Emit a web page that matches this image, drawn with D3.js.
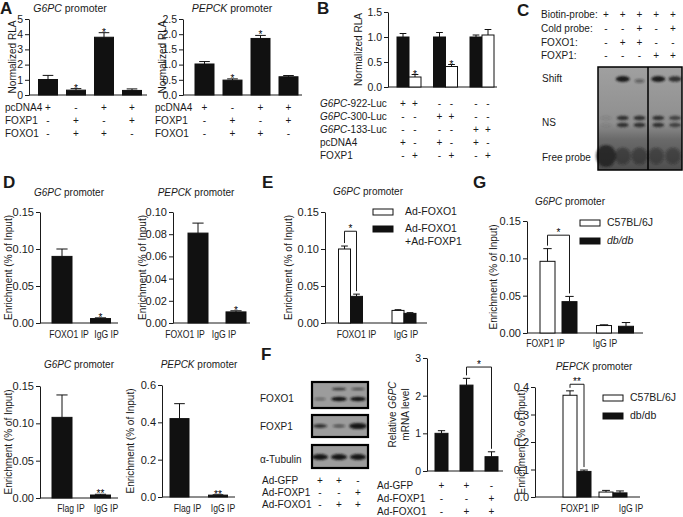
<!DOCTYPE html>
<html>
<head>
<meta charset="utf-8">
<script src="https://cdn.jsdelivr.net/npm/d3@7"></script>
<style>
	body { margin: 0; background: #fff; }
	svg text { font-family: "Liberation Sans", Arial, sans-serif; fill: #1a1a1a; }
	svg text.star { fill: #000; }
</style>
</head>
<body>
<div id="viz"></div>
<script>
// ---- A: luciferase, G6PC / PEPCK promoter
const A_ROWS = ['pcDNA4', 'FOXP1', 'FOXO1'];
const A_SIGNS = [['+', '-', '+', '+'], ['-', '+', '-', '+'], ['-', '+', '+', '-']];
const A_G6PC = [1.02, 0.32, 3.8, 0.3];
const A_G6PC_ERR = [0.27, 0.1, 0.3, 0.1];
const A_PEPCK = [1.02, 0.49, 1.86, 0.6];
const A_PEPCK_ERR = [0.08, 0.04, 0.1, 0.04];
const A_STARS = ['', '*', '*', ''];

// ---- B: G6PC deletion constructs
const B_ROWS = ['_G6PC_-922-Luc', '_G6PC_-300-Luc', '_G6PC_-133-Luc', 'pcDNA4', 'FOXP1'];
const B_SIGNS = [
	['+', '+', '-', '-', '-', '-'],
	['-', '-', '+', '+', '-', '-'],
	['-', '-', '-', '-', '+', '+'],
	['+', '-', '+', '-', '+', '-'],
	['-', '+', '-', '+', '-', '+']
];
const B_PCDNA = [1.0, 1.0, 1.0];
const B_PCDNA_ERR = [0.07, 0.09, 0.04];
const B_FOXP1 = [0.2, 0.41, 1.04];
const B_FOXP1_ERR = [0.05, 0.04, 0.11];
const B_STARS = ['*', '*', ''];

// ---- C: EMSA
const C_ROWS = ['Biotin-probe:', 'Cold probe:', 'FOXO1:', 'FOXP1:'];
const C_SIGNS = [['+', '+', '+', '+', '+'], ['-', '-', '+', '-', '+'], ['-', '+', '+', '-', '-'], ['-', '-', '-', '+', '+']];
const C_BANDS = ['Shift', 'NS', 'Free probe'];
const C_SHIFT = [0, 1, 0.45, 1, 0.85];
const C_NS = [0.12, 1, 1, 1, 0.8];
const C_FREE = [1, 0.6, 0.6, 0.55, 0.55];

// ---- D: ChIP
const D_CATS = ['FOXO1 IP', 'IgG IP'];
const D_G6PC = [0.09, 0.006];
const D_G6PC_ERR = [0.01, 0.001];
const D_PEPCK = [0.081, 0.01];
const D_PEPCK_ERR = [0.009, 0.001];
const D_FLAG_CATS = ['Flag IP', 'IgG IP'];
const D_FLAG_G6PC = [0.108, 0.004];
const D_FLAG_G6PC_ERR = [0.03, 0.001];
const D_FLAG_PEPCK = [0.42, 0.01];
const D_FLAG_PEPCK_ERR = [0.08, 0.002];

// ---- E
const E_CATS = ['FOXO1 IP', 'IgG IP'];
const E_SERIES = [['Ad-FOXO1'], ['Ad-FOXO1', '+Ad-FOXP1']];
const E_FOXO1 = [0.1, 0.017];
const E_FOXO1_ERR = [0.004, 0.001];
const E_BOTH = [0.036, 0.013];
const E_BOTH_ERR = [0.003, 0.001];

// ---- F
const F_BLOTS = ['FOXO1', 'FOXP1', 'α-Tubulin'];
const F_ROWS = ['Ad-GFP', 'Ad-FOXP1', 'Ad-FOXO1'];
const F_SIGNS = [['+', '+', '-'], ['-', '-', '+'], ['-', '+', '+']];
const F_FOXO1_UP = [0, 0.8, 0.7];
const F_FOXO1_LOW = [0.45, 1, 1];
const F_FOXP1 = [0.8, 0.6, 1.3];
const F_TUB = [1, 1, 1];
const F_MRNA = [1.0, 2.28, 0.38];
const F_MRNA_ERR = [0.07, 0.18, 0.13];

// ---- G
const G_CATS = ['FOXP1 IP', 'IgG IP'];
const G_SERIES = ['C57BL/6J', 'db/db'];
const G_G6PC_WT = [0.096, 0.01];
const G_G6PC_WT_ERR = [0.017, 0.001];
const G_G6PC_DB = [0.042, 0.009];
const G_G6PC_DB_ERR = [0.007, 0.005];
const G_PEPCK_WT = [0.37, 0.018];
const G_PEPCK_WT_ERR = [0.016, 0.006];
const G_PEPCK_DB = [0.093, 0.015];
const G_PEPCK_DB_ERR = [0.005, 0.007];

const INK = '#1a1a1a';
const BAR = '#111';
const TABLE_FONT = 10;

const svg = d3.select('#viz').append('svg')
	.attr('width', 683)
	.attr('height', 517);

const defs = svg.append('defs');
defs.append('filter').attr('id', 'blur').append('feGaussianBlur').attr('stdDeviation', 1.1);
const gelGrad = defs.append('linearGradient').attr('id', 'gelGrad').attr('x1', 0).attr('y1', 0).attr('x2', 0).attr('y2', 1);
[['0%', '#a0a0a0'], ['55%', '#8e8e8e'], ['70%', '#6a6a6a'], ['100%', '#4e4e4e']].forEach((s) => {
	gelGrad.append('stop').attr('offset', s[0]).attr('stop-color', s[1]);
});

// text with _italic_ parts
function rich(sel, str) {
	str.split('_').forEach((p, i) => {
		if (p) sel.append('tspan').attr('font-style', i % 2 ? 'italic' : 'normal').text(p);
	});
	return sel;
}

function label(x, y, str, size, anchor) {
	return rich(svg.append('text')
		.attr('x', x)
		.attr('y', y)
		.attr('font-size', size)
		.attr('text-anchor', anchor || 'start'), str);
}

function panelLetter(x, y, ch) {
	svg.append('text').attr('x', x).attr('y', y)
		.attr('font-size', 17).attr('font-weight', 'bold').text(ch);
}

function signTable(rows, signs, labelX, colX, baselines, size) {
	rows.forEach((r, i) => {
		label(labelX, baselines[i], r, size);
		svg.selectAll(null).data(signs[i]).enter()
			.append('text')
			.attr('x', (d, j) => colX[j])
			.attr('y', baselines[i])
			.attr('font-size', size)
			.attr('text-anchor', 'middle')
			.text((d) => d);
	});
}

function barChart(c) {
	const g = svg.append('g').attr('class', 'panel');
	const y = d3.scaleLinear().domain(c.domain).range([c.y0, c.y1]);
	const x = d3.scalePoint().domain(d3.range(c.n)).range(c.xRange);

	g.append('g')
		.attr('class', 'y axis')
		.attr('transform', 'translate(' + c.ax + ',0)')
		.call(d3.axisLeft(y).tickValues(c.ticks).tickFormat(d3.format(c.fmt)).tickSize(4).tickSizeOuter(0).tickPadding(2))
		.call((s) => {
			s.selectAll('path, line').attr('stroke', INK);
			s.selectAll('text').attr('font-size', c.tickFont).attr('fill', INK);
		});

	g.append('line')
		.attr('class', 'x axis')
		.attr('x1', c.ax).attr('x2', c.xEnd)
		.attr('y1', c.y0).attr('y2', c.y0)
		.attr('stroke', INK);

	const tops = [];
	c.series.forEach((s) => {
		tops.push(s.vals.map((v, i) => v + s.errs[i]));

		g.selectAll(null).data(s.vals).enter()
			.append('rect')
			.attr('x', (d, i) => x(i) + s.off - s.w / 2)
			.attr('y', (d) => y(d))
			.attr('width', s.w)
			.attr('height', (d) => c.y0 - y(d))
			.attr('fill', s.fill)
			.attr('stroke', BAR)
			.attr('stroke-width', 1);

		g.selectAll(null).data(s.vals).enter()
			.append('path')
			.attr('fill', 'none')
			.attr('stroke', BAR)
			.attr('d', (d, i) => {
				const cx = x(i) + s.off, cap = s.w * 0.28, t = y(d + s.errs[i]);
				return 'M' + cx + ',' + y(d) + 'V' + t + 'M' + (cx - cap) + ',' + t + 'H' + (cx + cap);
			});

		if (s.stars) {
			g.selectAll(null).data(s.stars).enter()
				.append('text')
				.attr('class', 'star')
				.attr('x', (d, i) => x(i) + s.off)
				.attr('y', (d, i) => y(s.vals[i] + s.errs[i]) + 3)
				.attr('font-size', 10)
				.attr('text-anchor', 'middle')
				.text((d) => d);
		}
	});

	if (c.bracket) {
		const b = c.bracket;
		const x1 = x(b.a[1]) + c.series[b.a[0]].off, x2 = x(b.b[1]) + c.series[b.b[0]].off;
		const yl = y(b.level);
		g.append('path')
			.attr('fill', 'none')
			.attr('stroke', INK)
			.attr('d', 'M' + x1 + ',' + Math.max(yl, y(tops[b.a[0]][b.a[1]]) - 3) + 'V' + yl + 'H' + x2 + 'V' + (y(tops[b.b[0]][b.b[1]]) - 3));
		g.append('text')
			.attr('class', 'star')
			.attr('x', (x1 + x2) / 2)
			.attr('y', yl + 1)
			.attr('font-size', 10)
			.attr('text-anchor', 'middle')
			.text(b.label);
	}

	if (c.cats) {
		// the reference uses a narrower face for these labels: squeeze horizontally
		g.selectAll(null).data(c.cats).enter()
			.append('text')
			.attr('transform', (d, i) => 'translate(' + (x(i) + (c.catDx ? c.catDx[i] : 0)) + ',' + c.catY + ') scale(0.82,1)')
			.attr('font-size', 10.5)
			.attr('text-anchor', 'middle')
			.text((d) => d);
	}

	if (c.title) label(c.titleX, c.titleY, c.title, c.titleFont || 10, 'middle');

	c.yLabel.forEach((t, i) => {
		rich(g.append('text')
			.attr('transform', 'translate(' + c.yLabelX[i] + ',' + (c.y0 + c.y1) / 2 + ') rotate(-90)')
			.attr('dy', '0.35em')
			.attr('font-size', 10)
			.attr('text-anchor', 'middle'), t);
	});

	return x;
}

function legend(items, rectX, ys, fills, textX, italic) {
	items.forEach((lines, i) => {
		svg.append('rect')
			.attr('x', rectX).attr('y', ys[i] - 6)
			.attr('width', 20).attr('height', 6)
			.attr('fill', fills[i]).attr('stroke', BAR);
		lines.forEach((t, k) => {
			svg.append('text')
				.attr('x', textX).attr('y', ys[i] + k * 13)
				.attr('font-size', 10.5)
				.attr('font-style', italic && italic[i] ? 'italic' : 'normal')
				.text(t);
		});
	});
}

// ================= A
panelLetter(0, 14, 'A');
const xA1 = barChart({
	ax: 29, y0: 95, y1: 19, xEnd: 147, domain: [0, 5], ticks: [0, 1, 2, 3, 4, 5], fmt: 'd', tickFont: 10.5,
	n: 4, xRange: [48, 132],
	series: [{ vals: A_G6PC, errs: A_G6PC_ERR, fill: BAR, off: 0, w: 19, stars: A_STARS }],
	title: '_G6PC_ promoter', titleX: 70, titleY: 12, titleFont: 10.5,
	yLabel: ['Normalized RLA'], yLabelX: [12]
});
signTable(A_ROWS, A_SIGNS, 5, [0, 1, 2, 3].map(xA1), [111, 124, 137], TABLE_FONT);

const xA2 = barChart({
	ax: 183, y0: 95, y1: 19, xEnd: 302, domain: [0, 2.5], ticks: [0, 0.5, 1, 1.5, 2, 2.5], fmt: '.1f', tickFont: 10.5,
	n: 4, xRange: [204.5, 288.5],
	series: [{ vals: A_PEPCK, errs: A_PEPCK_ERR, fill: BAR, off: 0, w: 19, stars: A_STARS }],
	title: '_PEPCK_ promoter', titleX: 232, titleY: 12, titleFont: 10.5,
	yLabel: ['Normalized RLA'], yLabelX: [162]
});
signTable(A_ROWS, A_SIGNS, 155, [0, 1, 2, 3].map(xA2), [111, 124, 137], TABLE_FONT);

// ================= B
panelLetter(317, 14, 'B');
const xB = barChart({
	ax: 388, y0: 87, y1: 12, xEnd: 497, domain: [0, 1.5], ticks: [0, 0.5, 1, 1.5], fmt: '.1f', tickFont: 10.5,
	n: 3, xRange: [409, 482],
	series: [
		{ vals: B_PCDNA, errs: B_PCDNA_ERR, fill: BAR, off: -6, w: 12 },
		{ vals: B_FOXP1, errs: B_FOXP1_ERR, fill: '#fff', off: 6, w: 12, stars: B_STARS }
	],
	yLabel: ['Normalized RLA'], yLabelX: [358]
});
const bCols = [];
[0, 1, 2].forEach((i) => { bCols.push(xB(i) - 6, xB(i) + 6); });
signTable(B_ROWS, B_SIGNS, 320, bCols, [107, 120, 133, 146, 159], TABLE_FONT);

// ================= C
panelLetter(517, 16, 'C');
const lane = d3.scalePoint().domain(d3.range(5)).range([606, 673]);
signTable(C_ROWS, C_SIGNS, 541, d3.range(5).map(lane), [18, 32, 46, 59], TABLE_FONT);
[82, 126, 161].forEach((yy, i) => label(542, yy, C_BANDS[i], TABLE_FONT));

const gel = svg.append('g').attr('class', 'gel');
gel.append('rect').attr('x', 598).attr('y', 67).attr('width', 84).attr('height', 103).attr('fill', 'url(#gelGrad)');
const bands = gel.append('g').attr('filter', 'url(#blur)');
bands.selectAll(null).data(C_SHIFT).enter().append('ellipse')
	.attr('cx', (d, i) => lane(i) + (i > 2 ? 2 : 0)).attr('cy', (d, i) => (i === 2 ? 81 : 79))
	.attr('rx', (d) => 3 + 4 * d).attr('ry', (d) => 1 + 2 * d)
	.attr('fill', '#1c1c1c').attr('opacity', (d) => d);
[118, 125].forEach((cy) => {
	bands.selectAll(null).data(C_NS).enter().append('ellipse')
		.attr('cx', (d, i) => lane(i) + (i > 2 ? 2 : 0)).attr('cy', cy)
		.attr('rx', 6).attr('ry', 2.2)
		.attr('fill', '#222').attr('opacity', (d) => d * 0.9);
});
bands.selectAll(null).data(C_FREE).enter().append('ellipse')
	.attr('cx', (d, i) => lane(i)).attr('cy', 156)
	.attr('rx', (d) => 5 + 5 * d).attr('ry', (d) => 5 + 6 * d)
	.attr('fill', '#1e1e1e').attr('opacity', (d) => d * 0.85);
gel.append('rect').attr('x', 598).attr('y', 67).attr('width', 84).attr('height', 103)
	.attr('fill', 'none').attr('stroke', '#000').attr('stroke-width', 1.5);
gel.append('line').attr('x1', 648).attr('x2', 648).attr('y1', 67).attr('y2', 170)
	.attr('stroke', '#000').attr('stroke-width', 1.5);

// ================= D
panelLetter(3, 188, 'D');
barChart({
	ax: 40, y0: 323, y1: 212, xEnd: 118, domain: [0, 0.15], ticks: [0, 0.05, 0.1, 0.15], fmt: '.2f', tickFont: 11,
	n: 2, xRange: [62, 100.5],
	series: [{ vals: D_G6PC, errs: D_G6PC_ERR, fill: BAR, off: 0, w: 20, stars: ['', '*'] }],
	cats: D_CATS, catY: 338, catDx: [7, 6],
	title: '_G6PC_ promoter', titleX: 69, titleY: 196,
	yLabel: ['Enrichment (% of Input)'], yLabelX: [8]
});
barChart({
	ax: 173, y0: 323, y1: 212, xEnd: 250, domain: [0, 0.1], ticks: [0, 0.02, 0.04, 0.06, 0.08, 0.1], fmt: '.2f', tickFont: 11,
	n: 2, xRange: [198, 236],
	series: [{ vals: D_PEPCK, errs: D_PEPCK_ERR, fill: BAR, off: 0, w: 20, stars: ['', '*'] }],
	cats: D_CATS, catY: 338, catDx: [-13, -12],
	title: '_PEPCK_ promoter', titleX: 196, titleY: 196,
	yLabel: ['Enrichment (% of Input)'], yLabelX: [142]
});
barChart({
	ax: 40, y0: 498, y1: 386, xEnd: 118, domain: [0, 0.15], ticks: [0, 0.05, 0.1, 0.15], fmt: '.2f', tickFont: 11,
	n: 2, xRange: [62, 100.5],
	series: [{ vals: D_FLAG_G6PC, errs: D_FLAG_G6PC_ERR, fill: BAR, off: 0, w: 20, stars: ['', '**'] }],
	cats: D_FLAG_CATS, catY: 512, catDx: [9, 5.5],
	title: '_G6PC_ promoter', titleX: 79, titleY: 368,
	yLabel: ['Enrichment (% of Input)'], yLabelX: [8]
});
barChart({
	ax: 162, y0: 497, y1: 385, xEnd: 235, domain: [0, 0.6], ticks: [0, 0.2, 0.4, 0.6], fmt: '.1f', tickFont: 11,
	n: 2, xRange: [179.5, 218],
	series: [{ vals: D_FLAG_PEPCK, errs: D_FLAG_PEPCK_ERR, fill: BAR, off: 0, w: 19, stars: ['', '**'] }],
	cats: D_FLAG_CATS, catY: 512, catDx: [8, 5],
	title: '_PEPCK_ promoter', titleX: 199, titleY: 368,
	yLabel: ['Enrichment (% of Input)'], yLabelX: [130]
});

// ================= E
panelLetter(262, 188, 'E');
barChart({
	ax: 325, y0: 323, y1: 212, xEnd: 427, domain: [0, 0.15], ticks: [0, 0.05, 0.1, 0.15], fmt: '.2f', tickFont: 11,
	n: 2, xRange: [350.5, 404],
	series: [
		{ vals: E_FOXO1, errs: E_FOXO1_ERR, fill: '#fff', off: -6, w: 12 },
		{ vals: E_BOTH, errs: E_BOTH_ERR, fill: BAR, off: 6, w: 12 }
	],
	bracket: { a: [0, 0], b: [1, 0], level: 0.124, label: '*' },
	cats: E_CATS, catY: 338, catDx: [6, 2],
	title: '_G6PC_ promoter', titleX: 368, titleY: 195,
	yLabel: ['Enrichment (% of Input)'], yLabelX: [288]
});
legend(E_SERIES, 373, [215, 232], ['#fff', BAR], 405);

// ================= F
panelLetter(261, 360, 'F');
const blotLane = d3.scalePoint().domain(d3.range(3)).range([320, 358]);
const blots = [[382, 408], [415, 437], [445, 468]];
F_BLOTS.forEach((b, i) => label(260, [402, 430, 463][i], b, TABLE_FONT));
const blotG = svg.append('g').attr('class', 'blots');
blots.forEach((bb) => {
	blotG.append('rect').attr('x', 312).attr('y', bb[0]).attr('width', 56).attr('height', bb[1] - bb[0]).attr('fill', '#9c9c9c');
});
const blotBands = blotG.append('g').attr('filter', 'url(#blur)');
[[F_FOXO1_UP, 389, 1.6], [F_FOXO1_LOW, 399, 2.2], [F_FOXP1, 426, 2.4], [F_TUB, 457, 3]].forEach((spec) => {
	blotBands.selectAll(null).data(spec[0]).enter().append('ellipse')
		.attr('cx', (d, i) => blotLane(i)).attr('cy', spec[1])
		.attr('rx', (d) => 4 + 4 * Math.min(d, 1.2)).attr('ry', (d) => spec[2] * Math.max(d, 0.6))
		.attr('fill', '#151515').attr('opacity', (d) => Math.min(d, 1));
});
blots.forEach((bb) => {
	blotG.append('rect').attr('x', 312).attr('y', bb[0]).attr('width', 56).attr('height', bb[1] - bb[0])
		.attr('fill', 'none').attr('stroke', '#000').attr('stroke-width', 2.2);
});
signTable(F_ROWS, F_SIGNS, 262, d3.range(3).map(blotLane), [484, 496, 508], TABLE_FONT);

const xF = barChart({
	ax: 427, y0: 471, y1: 358, xEnd: 503, domain: [0, 3], ticks: [0, 1, 2, 3], fmt: 'd', tickFont: 10.5,
	n: 3, xRange: [441.5, 491.5],
	series: [{ vals: F_MRNA, errs: F_MRNA_ERR, fill: BAR, off: 0, w: 13 }],
	bracket: { a: [0, 1], b: [0, 2], level: 2.76, label: '*' },
	yLabel: ['Relative _G6PC_', 'mRNA level'], yLabelX: [392, 405]
});
signTable(F_ROWS, F_SIGNS, 377, d3.range(3).map(xF), [489, 502, 515], TABLE_FONT);

// ================= G
panelLetter(473, 188, 'G');
barChart({
	ax: 527, y0: 333, y1: 221, xEnd: 643, domain: [0, 0.15], ticks: [0, 0.05, 0.1, 0.15], fmt: '.2f', tickFont: 11,
	n: 2, xRange: [558.5, 615],
	series: [
		{ vals: G_G6PC_WT, errs: G_G6PC_WT_ERR, fill: '#fff', off: -11, w: 15 },
		{ vals: G_G6PC_DB, errs: G_G6PC_DB_ERR, fill: BAR, off: 11, w: 15 }
	],
	bracket: { a: [0, 0], b: [1, 0], level: 0.131, label: '*' },
	cats: G_CATS, catY: 347, catDx: [-13, -10],
	title: '_G6PC_ promoter', titleX: 570, titleY: 205,
	yLabel: ['Enrichment (% of Input)'], yLabelX: [493]
});
legend([[G_SERIES[0]], [G_SERIES[1]]], 580, [226, 244], ['#fff', BAR], 607, [false, true]);

barChart({
	ax: 535, y0: 497, y1: 387, xEnd: 640, domain: [0, 0.4], ticks: [0, 0.1, 0.2, 0.3, 0.4], fmt: '.1f', tickFont: 11,
	n: 2, xRange: [577, 613],
	series: [
		{ vals: G_PEPCK_WT, errs: G_PEPCK_WT_ERR, fill: '#fff', off: -7, w: 14 },
		{ vals: G_PEPCK_DB, errs: G_PEPCK_DB_ERR, fill: BAR, off: 7, w: 14 }
	],
	bracket: { a: [0, 0], b: [1, 0], level: 0.41, label: '**' },
	cats: G_CATS, catY: 512, catDx: [3, 18],
	title: '_PEPCK_ promoter', titleX: 594, titleY: 370,
	yLabel: ['Enrichment (% of Input)'], yLabelX: [521]
});
legend([[G_SERIES[0]], [G_SERIES[1]]], 603, [401, 419], ['#fff', BAR], 630, [false, false]);
</script>
</body>
</html>
